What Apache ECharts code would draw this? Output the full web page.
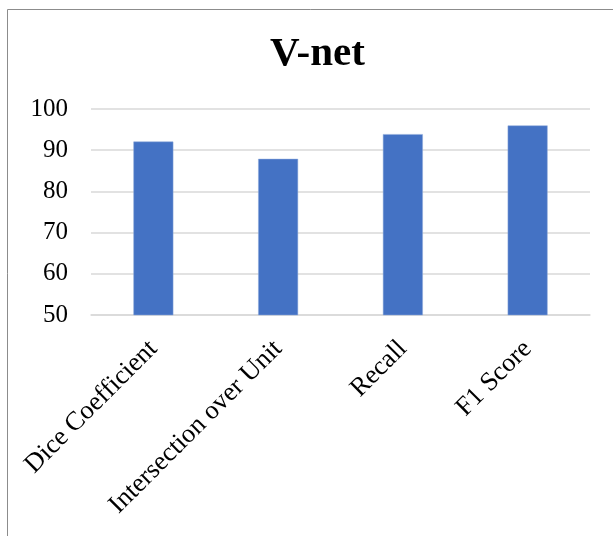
<!DOCTYPE html>
<html>
<head>
<meta charset="utf-8">
<script src="https://cdn.jsdelivr.net/npm/echarts@6/dist/echarts.min.js"></script>
<style>
  html, body { margin: 0; padding: 0; background: #fff; }
  #chart { width: 613px; height: 536px; }
</style>
</head>
<body>
<div id="chart"></div>
<script>
// chart data
const categories = ['Dice Coefficient', 'Intersection over Unit', 'Recall', 'F1 Score'];
const scores = [92.1, 87.9, 93.9, 96.0];

const serif = "'Liberation Serif', 'Times New Roman', serif";

const myChart = echarts.init(document.getElementById('chart'));

const option = {
  backgroundColor: '#fff',
  animation: false,
  title: {
    text: 'V-net',
    left: 265,
    top: 29,
    textStyle: {
      fontFamily: serif,
      fontWeight: 'bold',
      fontSize: 41,
      color: '#000',
    },
  },
  // outer chart frame (only top and left edges visible in the crop)
  graphic: [
    {
      type: 'rect',
      shape: { x: 7.5, y: 9.5, width: 700, height: 600 },
      style: { fill: 'none', stroke: '#8c8c8c', lineWidth: 1 },
      silent: true,
    },
  ],
  grid: {
    left: 91,
    right: 23,
    top: 109,
    bottom: 221,
  },
  xAxis: {
    type: 'category',
    data: categories,
    axisLine: { show: true, lineStyle: { color: '#d9d9d9', width: 1.5 } },
    axisTick: { show: false },
    axisLabel: {
      rotate: 45,
      interval: 0,
      margin: 30,
      fontFamily: serif,
      fontSize: 26.5,
      color: '#000',
    },
  },
  yAxis: {
    type: 'value',
    min: 50,
    max: 100,
    interval: 10,
    axisLine: { show: false },
    axisTick: { show: false },
    splitLine: { lineStyle: { color: '#d9d9d9', width: 1.5 } },
    axisLabel: {
      margin: 23,
      fontFamily: serif,
      fontSize: 25,
      color: '#000',
    },
  },
  series: [
    {
      type: 'bar',
      data: scores,
      barWidth: '32%',
      itemStyle: {
        color: '#4472C4',
        borderColor: '#8eaadb',
        borderWidth: 0.5,
      },
    },
  ],
};

myChart.setOption(option);
</script>
</body>
</html>
